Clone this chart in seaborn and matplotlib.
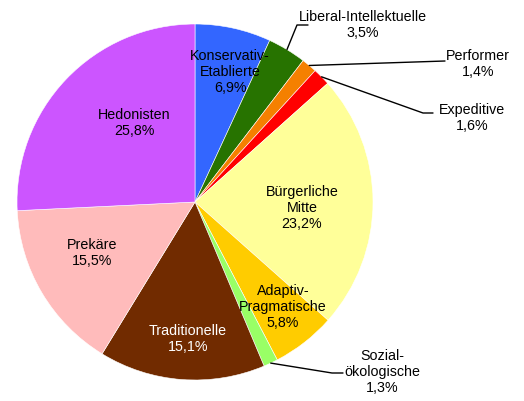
import numpy as np
import seaborn as sns
import matplotlib.pyplot as plt

# segments, clockwise from 12 o'clock
labels = ["Konservativ-\nEtablierte", "Liberal-Intellektuelle", "Performer", "Expeditive",
          "Bürgerliche\nMitte", "Adaptiv-\nPragmatische", "Sozial-\nökologische",
          "Traditionelle", "Prekäre", "Hedonisten"]
shares = [6.9, 3.5, 1.4, 1.6, 23.2, 5.8, 1.3, 15.1, 15.5, 25.8]
colors = ["#3366FF", "#277300", "#F58000", "#FF0000", "#FFFF99",
          "#FFCC00", "#99FF66", "#712B00", "#FFBBBB", "#CC55FF"]

# label placement in pixels (center of text block) and leader lines
PX_C, PY_C, R = 195, 202, 178
label_px = {
    0: (230, 72), 1: (363, 25), 2: (478, 64), 3: (472, 118), 4: (302, 208),
    5: (283, 307), 6: (382, 372), 7: (188, 339), 8: (92, 253), 9: (134, 123),
}
# elbow + end point of leader lines (pixels), start is on the wedge edge
leaders = {
    1: [(297, 25), (308, 25)],
    2: [(445, 61)],
    3: [(423, 113), (433, 113)],
    6: [(332, 373), (343, 373)],
}


def to_data(p):
    return ((p[0] - PX_C) / R, (PY_C - p[1]) / R)


sns.set_theme(style="white")
plt.rcParams["font.family"] = ["Liberation Sans Narrow", "Liberation Sans", "DejaVu Sans"]

fig = plt.figure(figsize=(5.24, 4.01), dpi=100)
ax = fig.add_axes([0, 0, 1, 1])

wedges, _ = ax.pie(shares, colors=colors, startangle=90, counterclock=False,
                   radius=1, center=(0, 0),
                   wedgeprops={"edgecolor": "white", "linewidth": 0.4})

ax.set_xlim(-PX_C / R, (524 - PX_C) / R)
ax.set_ylim(-(401 - PY_C) / R, PY_C / R)
ax.set_aspect("equal")
ax.axis("off")

for i, w in enumerate(wedges):
    txt = f"{labels[i]}\n{shares[i]:.1f}%".replace(".", ",")
    x, y = to_data(label_px[i])
    ax.text(x, y, txt, ha="center", va="center", fontsize=10.3,
            color="white" if i == 7 else "black", linespacing=1.2)
    if i in leaders:
        ang = np.deg2rad((w.theta1 + w.theta2) / 2)
        pts = [(np.cos(ang), np.sin(ang))] + [to_data(p) for p in leaders[i]]
        xs, ys = zip(*pts)
        ax.plot(xs, ys, color="black", lw=1.0)

fig.savefig("out.png", dpi=100)
